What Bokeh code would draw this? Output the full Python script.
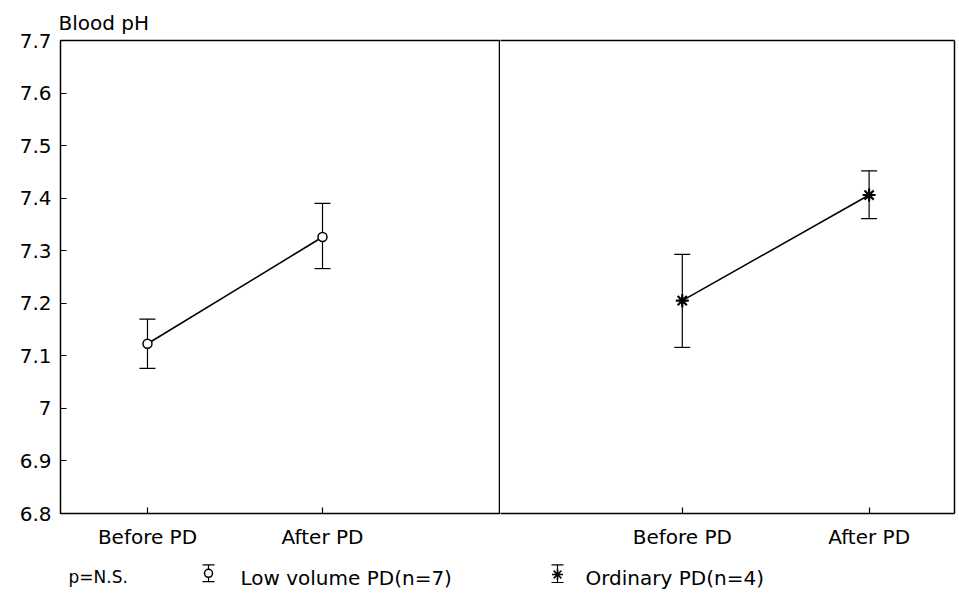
from bokeh.plotting import figure
from bokeh.models import FixedTicker, Whisker, ColumnDataSource, Range1d, TeeHead, LinearAxis
from bokeh.layouts import column, row
from bokeh.embed import file_html
from bokeh.resources import INLINE
from bokeh.core.properties import value

# ---- data ----
conditions = ["Before PD", "After PD"]
low_mean = [7.123, 7.326]
low_upper = [7.170, 7.390]
low_lower = [7.076, 7.266]
ord_mean = [7.205, 7.406]
ord_upper = [7.293, 7.452]
ord_lower = [7.116, 7.361]
y_ticks = [6.8, 6.9, 7.0, 7.1, 7.2, 7.3, 7.4, 7.5, 7.6, 7.7]
y_tick_labels = ["6.8", "6.9", "7", "7.1", "7.2", "7.3", "7.4", "7.5", "7.6", "7.7"]
y_title = "Blood pH"
legend_labels = ["Low volume PD(n=7)", "Ordinary PD(n=4)"]
p_note = "p=N.S."

FONT = "DejaVu Sans"
FS = "20px"
Y0, Y1 = 6.8, 7.7
LW = 1.5


def blank_axis(axis):
    axis.ticker = FixedTicker(ticks=[])
    axis.major_tick_line_color = None
    axis.minor_tick_line_color = None
    axis.major_label_standoff = 0
    axis.axis_line_color = "black"
    axis.axis_line_width = LW


def make_panel(width, x_start, x_end, mean, upper, lower, marker, msize, mlw,
               with_y, border_left, border_right, title=None):
    kw = dict(width=width, height=558, output_backend="svg", toolbar_location=None,
              x_range=Range1d(x_start, x_end), y_range=Range1d(Y0, Y1),
              min_border_top=40, min_border_bottom=45,
              min_border_left=border_left, min_border_right=border_right)
    if not with_y:
        kw["y_axis_location"] = None
    p = figure(**kw)
    if title:
        p.title.text = title
        p.title.text_font = FONT
        p.title.text_font_size = "20px"
        p.title.text_font_style = "normal"
        p.title.text_color = "black"
        p.title.standoff = 12
        p.title.offset = -2
    p.grid.visible = False
    p.background_fill_color = "white"
    p.border_fill_color = "white"

    xs = list(range(len(conditions)))
    src = ColumnDataSource(dict(x=xs, m=mean, u=upper, l=lower))

    p.xaxis.ticker = FixedTicker(ticks=xs)
    p.xaxis.major_label_overrides = {i: c for i, c in zip(xs, conditions)}
    p.xaxis.major_tick_in = 6
    p.xaxis.major_tick_out = 0
    p.xaxis.minor_tick_line_color = None
    p.xaxis.major_label_standoff = 11
    p.xaxis.major_label_text_font = FONT
    p.xaxis.major_label_text_font_size = FS
    p.xaxis.major_label_text_color = "black"
    p.xaxis.major_tick_line_color = "black"
    p.xaxis.major_tick_line_width = 1.2

    if with_y:
        # left panel: its outline draws the full box incl. the divider
        p.outline_line_color = "black"
        p.outline_line_width = LW
        p.xaxis.axis_line_color = None
        p.yaxis.ticker = FixedTicker(ticks=y_ticks)
        p.yaxis.major_label_overrides = {t: s for t, s in zip(y_ticks, y_tick_labels)}
        p.yaxis.major_tick_in = 6
        p.yaxis.major_tick_out = 0
        p.yaxis.minor_tick_line_color = None
        p.yaxis.axis_line_color = None
        p.yaxis.major_label_standoff = 9
        p.yaxis.major_label_text_font = FONT
        p.yaxis.major_label_text_font_size = FS
        p.yaxis.major_label_text_color = "black"
        p.yaxis.major_tick_line_color = "black"
        p.yaxis.major_tick_line_width = 1.2
    else:
        # right panel: top, right and bottom edges drawn by axis lines
        p.outline_line_color = None
        p.xaxis.axis_line_color = "black"
        p.xaxis.axis_line_width = LW
        top = LinearAxis()
        blank_axis(top)
        p.add_layout(top, "above")
        rgt = LinearAxis()
        blank_axis(rgt)
        p.add_layout(rgt, "right")

    w = Whisker(base="x", upper="u", lower="l", source=src, line_color="black",
                line_width=1.2, level="underlay",
                upper_head=TeeHead(size=16, line_color="black", line_width=1.2),
                lower_head=TeeHead(size=16, line_color="black", line_width=1.2))
    p.add_layout(w)
    p.line("x", "m", source=src, line_color="black", line_width=1.6)
    p.scatter("x", "m", source=src, marker=marker, size=msize, line_color="black",
              fill_color="white", line_width=mlw)
    return p


left = make_panel(500, -0.497, 2.017, low_mean, low_upper, low_lower,
                  "circle", 9, 1.5, True, 60, 0, title=y_title)
right = make_panel(457, -0.973, 1.457, ord_mean, ord_upper, ord_lower,
                   "asterisk", 13, 2.2, False, 0, 3)

# ---- legend strip ----
leg = figure(width=957, height=40, output_backend="svg", toolbar_location=None,
             x_range=Range1d(0, 957), y_range=Range1d(0, 1),
             x_axis_location=None, y_axis_location=None,
             min_border=0)
leg.grid.visible = False
leg.outline_line_color = None

icon_x = [208, 557]
text_x = [240, 585]
leg_src = ColumnDataSource(dict(x=icon_x, u=[0.84, 0.84], l=[0.42, 0.40],
                                m=[0.63, 0.6], tx=text_x, t=legend_labels,
                                mk=["circle", "asterisk"], sz=[8, 11]))
leg.add_layout(Whisker(base="x", upper="u", lower="l", source=leg_src,
                       line_color="black", line_width=1.2, level="underlay",
                       upper_head=TeeHead(size=12, line_color="black", line_width=1.2),
                       lower_head=TeeHead(size=12, line_color="black", line_width=1.2)))
leg.scatter("x", "m", source=leg_src, marker="mk", size="sz", line_color="black",
            fill_color="white", line_width=1.5)
leg.text("tx", 0.52, text="t", source=leg_src, text_font=value(FONT),
         text_font_size=FS, text_baseline="middle", text_align="left", text_color="black")
leg.text(x=[68], y=[0.55], text=[p_note], text_font=value(FONT), text_font_size="17px",
         text_baseline="middle", text_align="left", text_color="black")

layout = column(row(left, right, spacing=0), leg, spacing=0)

open("out.html", "w").write(file_html(layout, INLINE))
